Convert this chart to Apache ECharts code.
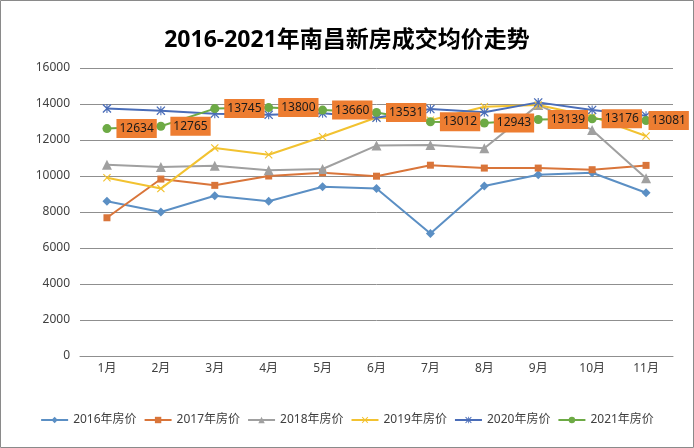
<!DOCTYPE html>
<html>
<head>
<meta charset="utf-8">
<script src="https://cdn.jsdelivr.net/npm/echarts@6/dist/echarts.min.js"></script>
<style>
html,body{margin:0;padding:0;background:#fff;}
#main{width:694px;height:448px;}
</style>
</head>
<body>
<div id="main"></div>
<script>
const months = ['1月','2月','3月','4月','5月','6月','7月','8月','9月','10月','11月'];
const yTicks = [0, 2000, 4000, 6000, 8000, 10000, 12000, 14000, 16000];
const s2016 = [8600, 8000, 8900, 8600, 9400, 9300, 6800, 9450, 10070, 10180, 9070];
const s2017 = [7680, 9830, 9480, 10000, 10180, 9990, 10600, 10440, 10440, 10350, 10590];
const s2018 = [10630, 10500, 10570, 10320, 10390, 11690, 11720, 11540, 13950, 12560, 9870];
const s2019 = [9900, 9300, 11560, 11180, 12180, 13250, 13100, 13850, 13940, 13300, 12220];
const s2020 = [13750, 13630, 13460, 13400, 13480, 13230, 13720, 13540, 14090, 13670, 13350];
const s2021 = [12634, 12765, 13745, 13800, 13660, 13531, 13012, 12943, 13139, 13176, 13081];
const names = ['2016年房价','2017年房价','2018年房价','2019年房价','2020年房价','2021年房价'];

const FONT = '"Noto Sans", "Noto Sans CJK SC", sans-serif';
const X_PATH = 'path://M1,0 L5,4 L9,0 L10,1 L6,5 L10,9 L9,10 L5,6 L1,10 L0,9 L4,5 L0,1 Z';
const STAR_PATH = 'path://M1,0 L5,4 L9,0 L10,1 L6,5 L10,9 L9,10 L5,6 L1,10 L0,9 L4,5 L0,1 Z M4.4,0 L5.6,0 L5.6,10 L4.4,10 Z';

function mk(name, data, color, symbol, size, extra) {
  return Object.assign({
    name: name, type: 'line', data: data,
    symbol: symbol, symbolSize: size,
    showAllSymbol: true,
    lineStyle: {color: color, width: 2},
    itemStyle: {color: color, borderColor: color, borderWidth: 0},
    emphasis: {disabled: true},
    animation: false
  }, extra || {});
}

const data2021 = s2021.map(function (v, i) {
  return i === s2021.length - 1 ? {value: v, label: {distance: -2}} : v;
});

const chart = echarts.init(document.getElementById('main'));
chart.setOption({
  backgroundColor: '#fff',
  textStyle: {fontFamily: FONT},
  title: {
    text: '2016-2021年南昌新房成交均价走势',
    left: 'center', top: 24,
    textStyle: {fontSize: 23, fontWeight: 'bold', color: '#000', fontFamily: FONT}
  },
  graphic: [{
    type: 'rect', silent: true, z: -1,
    shape: {x: 0.5, y: 0.5, width: 693, height: 447},
    style: {fill: 'none', stroke: '#8a8a8a', lineWidth: 1}
  }],
  legend: {
    data: names,
    top: 409, left: 'center',
    itemGap: 7, itemWidth: 27, itemHeight: 8,
    textStyle: {fontSize: 12, color: '#404040', fontFamily: FONT}
  },
  grid: {left: 80, right: 21, top: 68, bottom: 92},
  xAxis: {
    type: 'category', data: months, boundaryGap: true,
    axisLine: {lineStyle: {color: '#8f8f8f', width: 1}},
    axisTick: {show: false},
    axisLabel: {fontSize: 12, color: '#404040', margin: 7, fontFamily: FONT}
  },
  yAxis: {
    type: 'value', min: yTicks[0], max: yTicks[yTicks.length - 1], interval: yTicks[1] - yTicks[0],
    axisLine: {show: false}, axisTick: {show: false},
    axisLabel: {fontSize: 12, color: '#404040', margin: 10, fontFamily: FONT,
      formatter: function (v) { return String(v); }},
    splitLine: {lineStyle: {color: '#8f8f8f', width: 1}}
  },
  series: [
    mk(names[0], s2016, '#5B8FC4', 'diamond', 9),
    mk(names[1], s2017, '#D9753A', 'rect', 7),
    mk(names[2], s2018, '#A0A0A0', 'triangle', 10),
    mk(names[3], s2019, '#F2C230', X_PATH, 8),
    mk(names[4], s2020, '#4A6DB8', STAR_PATH, 9),
    mk(names[5], data2021, '#6DAA45', 'circle', 9, {
      label: {
        show: true, position: 'right', distance: 5,
        backgroundColor: '#ED7D31', color: '#1a1a1a',
        fontSize: 12, lineHeight: 13, padding: [3, 3],
        fontFamily: FONT
      }
    })
  ]
});
</script>
</body>
</html>
